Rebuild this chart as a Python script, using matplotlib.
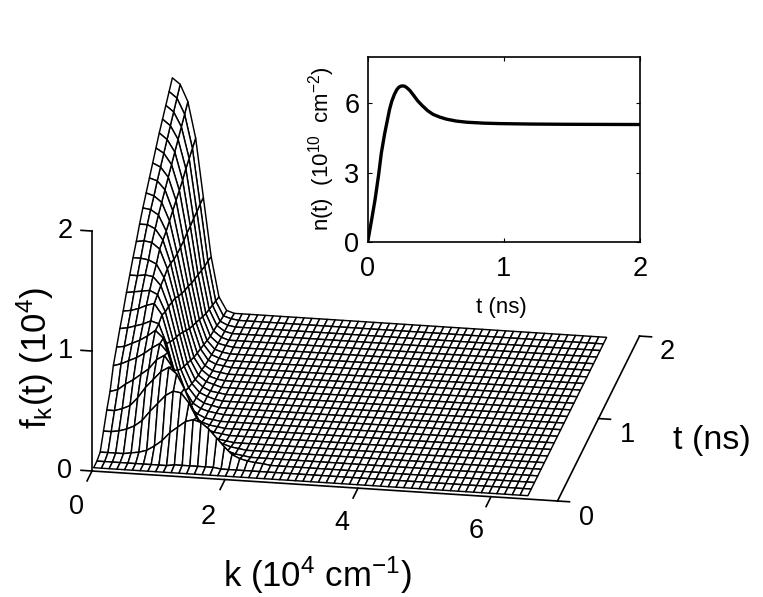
import matplotlib
matplotlib.use('Agg')
import numpy as np
import matplotlib.pyplot as plt
from mpl_toolkits.mplot3d import proj3d

plt.rcParams['font.family'] = ['Liberation Sans', 'DejaVu Sans']
plt.rcParams['mathtext.fontset'] = 'custom'
plt.rcParams['mathtext.rm'] = 'Liberation Sans'
plt.rcParams['mathtext.it'] = 'Liberation Sans'
plt.rcParams['mathtext.default'] = 'rm'

W, H = 763, 597

# surface grid
k_vals = [0, .117, .233, .35, .466, .583, .7, .816, .933, 1.049, 1.166, 1.283, 1.399, 1.516, 1.632,
          1.749, 1.866, 1.982, 2.099, 2.215, 2.332, 2.449, 2.565, 2.682, 2.798, 2.915, 3.032, 3.148,
          3.265, 3.381, 3.498, 3.615, 3.731, 3.848, 3.964, 4.081, 4.198, 4.314, 4.431, 4.547, 4.664,
          4.781, 4.897, 5.014, 5.13, 5.247, 5.364, 5.48, 5.597, 5.713, 5.83, 5.947, 6.063, 6.18,
          6.296, 6.413, 6.53]
t_vals = [.04, .12, .2, .28, .36, .44, .52, .6, .68, .76, .84, .92, 1.0, 1.08, 1.16, 1.24, 1.32,
          1.4, 1.48, 1.56, 1.64, 1.72, 1.8, 1.88, 1.96]

# f per t row, starting at k=0; the rest of each row is on the floor
f_rows = [
    [0],
    [0, 0, 0, 0, 0, 0, 0, 0, 0, 0, .01, .01, .01, .01, .01, .01],
    [.02, .02, .02, .02, .03, .04, .06, .1, .15, .22, .27, .32, .34, .32, .27, .2, .13, .07, .04, .025, .015, .01],
    [.14, .14, .15, .17, .2, .25, .33, .4, .47, .51, .5, .42, .3, .2, .12, .07, .04, .02, .01],
    [.26, .26, .28, .31, .38, .47, .54, .61, .65, .6, .48, .33, .21, .12, .07, .04, .02, .01],
    [.36, .38, .43, .47, .52, .57, .65, .69, .6, .43, .27, .15, .08, .04, .02, .01],
    [.52, .54, .57, .6, .64, .69, .73, .66, .47, .28, .15, .08, .04, .02, .01],
    [.62, .63, .66, .69, .73, .78, .72, .52, .3, .16, .08, .04, .02, .01],
    [.72, .73, .75, .77, .8, .78, .62, .4, .21, .1, .05, .02, .01],
    [.81, .82, .84, .87, .89, .8, .58, .35, .18, .08, .04, .02, .01],
    [.91, .92, .93, .94, .91, .77, .54, .3, .15, .07, .03, .015],
    [1.0, 1.0, 1.01, 1.0, .93, .76, .51, .27, .13, .06, .03, .01],
    [1.09, 1.09, 1.08, 1.05, .94, .74, .48, .24, .11, .05, .02, .01],
    [1.17, 1.18, 1.17, 1.12, .96, .72, .44, .21, .09, .04, .02],
    [1.26, 1.26, 1.23, 1.14, .95, .68, .4, .18, .08, .03, .01],
    [1.34, 1.33, 1.29, 1.16, .93, .65, .36, .16, .06, .02, .01],
    [1.41, 1.39, 1.34, 1.19, .92, .62, .33, .14, .05, .02, .01],
    [1.48, 1.46, 1.39, 1.22, .92, .6, .3, .12, .04, .015],
    [1.55, 1.52, 1.44, 1.25, .92, .57, .27, .1, .03, .01],
    [1.62, 1.58, 1.49, 1.28, .93, .55, .24, .08, .025, .01],
    [1.69, 1.64, 1.54, 1.31, .93, .53, .21, .07, .02],
    [1.75, 1.7, 1.59, 1.35, .94, .51, .19, .06, .015],
    [1.81, 1.76, 1.64, 1.38, .94, .49, .17, .04, .01],
    [1.87, 1.82, 1.69, 1.41, .95, .48, .15, .03, .01],
    [1.93, 1.88, 1.74, 1.44, .95, .46, .13, .02],
]

# inset curve
t_inset = [0, .03, .054, .08, .1, .125, .145, .16, .176, .195, .213, .23, .25, .27, .286, .31, .335,
           .365, .397, .44, .48, .53, .58, .65, .727, .85, .97, 1.2, 1.46, 2]
n_inset = [0, 1.0, 1.83, 2.9, 3.84, 4.7, 5.28, 5.72, 6.07, 6.37, 6.58, 6.7, 6.75, 6.74, 6.68, 6.55, 6.36,
           6.12, 5.92, 5.68, 5.52, 5.4, 5.31, 5.23, 5.18, 5.14, 5.12, 5.1, 5.09, 5.08]

k_ticks = [0, 2, 4, 6]
t_ticks = [0, 1, 2]
z_ticks = [0, 1, 2]


def px_text(x, y, s, size, **kw):
    fig.text(x / W, 1 - y / H, s, fontsize=size, ha='center', va='center', **kw)


fig = plt.figure(figsize=(W / 100, H / 100), dpi=100)
ax = fig.add_axes([0, 0, 1, 1], projection='3d', proj_type='ortho', computed_zorder=False)
ax.view_init(elev=21.1, azim=-79.85)
ax.set_xlim(0, 7)
ax.set_ylim(0, 2)
ax.set_zlim(0, 2)
ax.set_box_aspect((472.9, 465.4, 257.2))
ax.set_axis_off()
ax.patch.set_alpha(0)


def origin_and_end():
    # pixel place of k=0 and k=7 on the floor
    out = []
    for kk in (0, 7):
        x2, y2, _ = proj3d.proj_transform(kk, 0, 0, ax.get_proj())
        out.append(ax.transData.transform((x2, y2)))
    return out


# scale and shift the 3d axes so the box sits where the reference has it
ax.apply_aspect()
p0, p1 = origin_and_end()
side = min(W, H) * 465.5 / (p1[0] - p0[0])
ax.set_position([(W - side) / 2 / W, (H - side) / 2 / H, side / W, side / H])
ax.apply_aspect()
p0, p1 = origin_and_end()
dx = 92 - p0[0]
dy = (H - 471) - p0[1]
ax.set_position([((W - side) / 2 + dx) / W, ((H - side) / 2 + dy) / H, side / W, side / H])

lc = 'k'
lw_ax = 1.2
ax.plot([0, 7], [0, 0], [0, 0], color=lc, lw=lw_ax, zorder=1)
ax.plot([7, 7], [0, 2], [0, 0], color=lc, lw=lw_ax, zorder=1)
ax.plot([0, 0], [0, 0], [0, 2], color=lc, lw=lw_ax, zorder=1)
for kt in k_ticks:
    ax.plot([kt, kt], [0, -.12], [0, 0], color=lc, lw=lw_ax, zorder=1)
for tt in t_ticks:
    ax.plot([7, 7.18], [tt, tt], [0, 0], color=lc, lw=lw_ax, zorder=1)
for zt in z_ticks:
    ax.plot([0, -.165], [0, 0], [zt, zt], color=lc, lw=lw_ax, zorder=1)

K, T = np.meshgrid(k_vals, t_vals)
F = np.zeros(K.shape)
for j, row in enumerate(f_rows):
    F[j, :len(row)] = row
ax.plot_surface(K, T, F, rstride=1, cstride=1, color='white', edgecolor='k', linewidth=1.05,
                shade=False, antialiased=True, zorder=2)

# tick labels and titles of the 3d box
for kt, (x, y) in zip(k_ticks, [(76, 507), (208, 517), (342, 523), (476, 531)]):
    px_text(x, y, str(kt), 19.5)
for tt, (x, y) in zip(t_ticks, [(587, 518), (628, 435), (667, 352)]):
    px_text(x, y, str(tt), 19.5)
for zt, y in zip(z_ticks, [471, 351, 231]):
    px_text(65, y, str(zt), 19.5)
px_text(317, 575, r'k (10$^{4}$ cm$^{\mathrm{-1}}$)'.replace('-', '\u2212'), 25)
px_text(712, 441, 't (ns)', 24.5)
px_text(35, 358, r'f$_{\mathrm{k}}$(t) (10$^{4}$)', 25, rotation=90)

# inset
ins = fig.add_axes([367.7 / W, 1 - 242 / H, 272.3 / W, 185 / H])
ins.plot(t_inset, n_inset, color='k', lw=2.4)
ins.set_xlim(0, 2)
ins.set_ylim(0, 8)
ins.set_xticks([0, 1, 2])
ins.set_yticks([0, 3, 6])
ins.tick_params(direction='in', top=True, right=True, length=3, width=0.8, labelsize=19.5)
ins.tick_params(axis='x', pad=10)
ins.tick_params(axis='y', pad=6)
for s in ins.spines.values():
    s.set_linewidth(1.2)
px_text(501, 308, 't (ns)', 16)
px_text(322, 149, r'n(t)  (10$^{10}$  cm$^{\mathrm{-2}}$)'.replace('-', '\u2212'), 16, rotation=90)

fig.savefig('out.png', dpi=100)
